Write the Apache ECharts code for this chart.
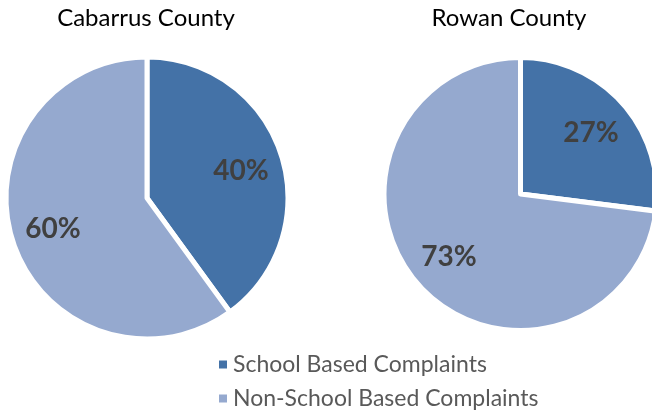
<!DOCTYPE html>
<html>
<head>
<meta charset="utf-8">
<script src="https://cdn.jsdelivr.net/npm/echarts@6/dist/echarts.min.js"></script>
<style>
html,body{margin:0;padding:0;background:#fff;}
#chart{width:652px;height:412px;}
</style>
</head>
<body>
<div id="chart"></div>
<script>
// ---- data ----
const categories = ['School Based Complaints', 'Non-School Based Complaints'];
const counties = ['Cabarrus County', 'Rowan County'];
const cabarrusValues = [40, 60];
const rowanValues = [27, 73];

// ---- styles / layout ----
const colors = ['#4472A7', '#95A9CF'];
const fontFam = 'Lato, "Liberation Sans", sans-serif';
// label anchor points (text centres) per pie / slice
const labelPos = [
  [[241, 171], [53, 229]],
  [[591, 133], [449, 257]]
];

const chart = echarts.init(document.getElementById('chart'));

function makeData(vals) {
  return categories.map((c, i) => ({ name: c, value: vals[i], itemStyle: { color: colors[i] } }));
}

function pieSeries(idx, vals, center, radius) {
  return {
    type: 'pie',
    center: center,
    radius: radius,
    startAngle: 90,
    clockwise: true,
    avoidLabelOverlap: false,
    animation: false,
    silent: true,
    itemStyle: { borderColor: '#ffffff', borderWidth: 5 },
    label: {
      show: true,
      position: 'inside',
      formatter: '{c}%',
      color: '#404040',
      fontSize: 28,
      fontWeight: 'bold',
      fontFamily: fontFam
    },
    labelLine: { show: false },
    labelLayout: function (p) {
      const s = labelPos[idx][p.dataIndex];
      return { x: s[0], y: s[1], align: 'center', verticalAlign: 'middle' };
    },
    data: makeData(vals)
  };
}

function legendItem(i, top) {
  return {
    orient: 'vertical',
    left: 212,
    top: top,
    icon: 'rect',
    itemWidth: 10,
    itemHeight: 10,
    itemGap: 8,
    selectedMode: false,
    data: [categories[i]],
    textStyle: { fontFamily: fontFam, fontSize: 23, color: '#595959' }
  };
}

chart.setOption({
  backgroundColor: '#ffffff',
  title: [
    { text: counties[0], left: 141, top: 1, textAlign: 'center',
      textStyle: { fontFamily: fontFam, fontSize: 24, fontWeight: 'normal', color: '#000000' } },
    { text: counties[1], left: 504, top: 1, textAlign: 'center',
      textStyle: { fontFamily: fontFam, fontSize: 24, fontWeight: 'normal', color: '#000000' } }
  ],
  legend: [legendItem(0, 348), legendItem(1, 382)],
  series: [
    pieSeries(0, cabarrusValues, [147, 198], 141),
    pieSeries(1, rowanValues, [520.5, 194], 136.5)
  ]
});
</script>
</body>
</html>
